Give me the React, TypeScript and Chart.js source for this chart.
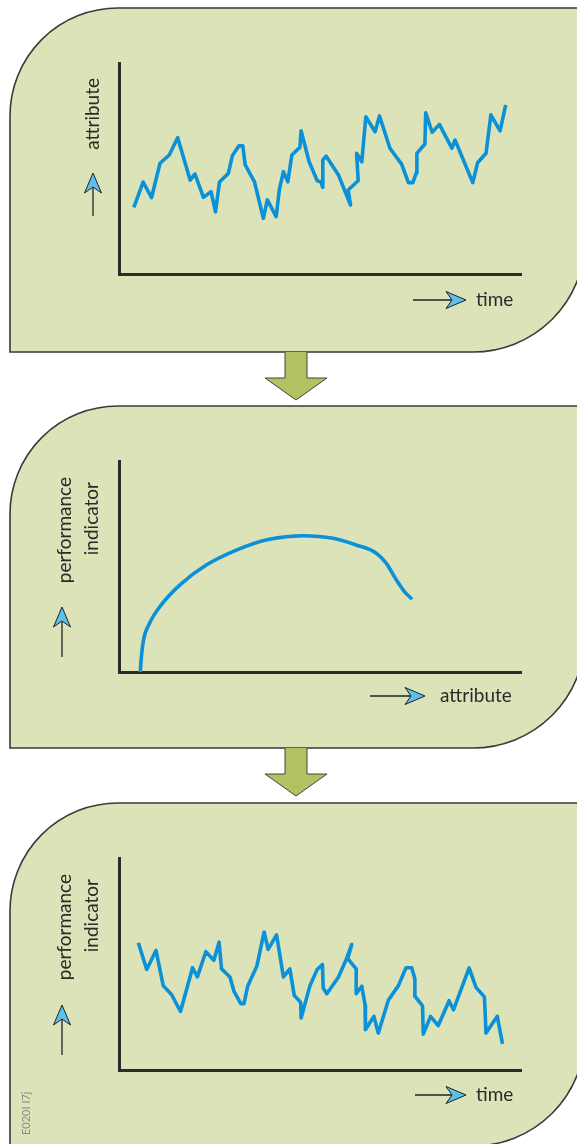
import React, { useEffect, useRef } from "react";
import { Chart, registerables } from "chart.js";

Chart.register(...registerables);

// ---------- data (axis units 0..100) ----------
const timeSteps1 = [3.7, 6.0, 8.1, 10.2, 12.5, 14.6, 17.7, 18.9, 21.0, 22.9, 24.0, 25.0, 27.2, 28.2, 29.8, 30.8, 31.4, 33.7, 35.9, 36.9, 39.1, 39.9, 40.9, 42.0, 43.0, 45.0, 45.3, 47.3, 49.3, 50.2, 50.7, 50.7, 51.5, 54.6, 56.6, 57.6, 57.0, 59.5, 59.1, 60.4, 61.4, 63.7, 64.8, 67.4, 70.3, 72.0, 73.1, 73.9, 74.1, 76.1, 76.3, 77.9, 79.7, 82.8, 83.6, 88.0, 89.2, 91.3, 92.5, 94.8, 96.2];
const attribute1 = [31.6, 43.6, 36.2, 52.5, 56.4, 64.6, 44.5, 47.4, 36.3, 39.0, 29.4, 43.6, 47.7, 56.1, 60.7, 60.7, 51.7, 43.7, 26.4, 35.1, 27.2, 40.1, 48.5, 43.7, 56.4, 60.0, 67.9, 53.2, 44.2, 43.7, 41.1, 54.0, 55.9, 46.9, 37.4, 32.7, 39.8, 44.2, 57.2, 53.2, 74.5, 67.4, 74.9, 59.6, 52.1, 43.3, 43.3, 47.7, 57.2, 61.6, 76.4, 67.2, 70.9, 59.6, 63.5, 43.3, 52.7, 57.2, 75.4, 67.8, 80.1];

const attributeCurve = [5.3, 5.5, 6.1, 7.6, 10.5, 15.1, 21.7, 29.2, 37.4, 45.7, 53.2, 59.0, 64.0, 66.5, 69.0, 71.0, 72.9];
const performanceCurve = [0, 5.7, 15.2, 23.1, 31.8, 41.2, 50.7, 57.8, 62.9, 64.6, 63.4, 60.2, 56.3, 51.5, 43.6, 38.1, 34.5];

const timeSteps3 = [4.8, 6.9, 9.2, 11.0, 13.1, 15.3, 18.3, 19.5, 21.6, 23.6, 24.9, 25.5, 27.6, 28.6, 30.3, 31.1, 32.0, 34.3, 36.1, 37.1, 39.2, 40.9, 42.5, 43.6, 45.2, 45.3, 47.5, 49.3, 50.6, 50.8, 51.7, 54.6, 56.6, 57.9, 56.9, 59.0, 59.0, 60.4, 61.2, 61.3, 63.4, 64.5, 67.0, 69.5, 71.4, 72.8, 73.6, 73.6, 75.5, 75.7, 77.5, 79.4, 82.1, 83.2, 87.1, 88.8, 90.9, 91.3, 94.1, 95.4];
const performance3 = [60.0, 47.4, 56.4, 39.8, 35.5, 27.6, 48.2, 43.9, 55.8, 51.8, 60.3, 47.7, 43.9, 37.1, 31.3, 31.3, 39.5, 49.0, 65.1, 56.9, 63.7, 43.9, 47.7, 35.1, 31.9, 24.5, 39.8, 47.4, 49.8, 38.7, 36.0, 43.9, 52.5, 59.2, 52.5, 47.7, 36.0, 39.5, 30.8, 19.0, 25.3, 17.4, 32.9, 39.8, 48.2, 48.2, 43.0, 34.8, 30.3, 16.9, 25.3, 20.9, 32.7, 28.4, 48.2, 39.0, 34.5, 17.4, 25.3, 12.3];

const yLabels1 = ["attribute"];
const xLabel1 = "time";
const yLabels2 = ["performance", "indicator"];
const xLabel2 = "attribute";
const yLabels3 = ["performance", "indicator"];
const xLabel3 = "time";
const figureCode = "E020I I7j";

// ---------- styles ----------
const LINE_BLUE = "#0a91d8";
const PANEL_FILL = "#dde3b9";
const PANEL_STROKE = "#3a3a3a";
const AXIS_COLOR = "#2b2b2b";
const ARROW_FILL = "#b1c263";
const DART_FILL = "#5cc0ee";
const TEXT_COLOR = "#2a2a2a";
const FONT = "Lato, 'Open Sans', sans-serif";

function dartH(ctx: CanvasRenderingContext2D, x0: number, tip: number, y: number) {
  ctx.save();
  ctx.strokeStyle = "#222";
  ctx.lineWidth = 1.3;
  ctx.beginPath();
  ctx.moveTo(x0, y);
  ctx.lineTo(tip - 14, y);
  ctx.stroke();
  ctx.beginPath();
  ctx.moveTo(tip, y);
  ctx.lineTo(tip - 20, y - 8.5);
  ctx.lineTo(tip - 14, y);
  ctx.lineTo(tip - 20, y + 8.5);
  ctx.closePath();
  ctx.fillStyle = DART_FILL;
  ctx.fill();
  ctx.lineWidth = 1;
  ctx.stroke();
  ctx.restore();
}

function dartV(ctx: CanvasRenderingContext2D, x: number, y0: number, tip: number) {
  ctx.save();
  ctx.strokeStyle = "#222";
  ctx.lineWidth = 1.3;
  ctx.beginPath();
  ctx.moveTo(x, y0);
  ctx.lineTo(x, tip + 14);
  ctx.stroke();
  ctx.beginPath();
  ctx.moveTo(x, tip);
  ctx.lineTo(x - 8.5, tip + 20);
  ctx.lineTo(x, tip + 14);
  ctx.lineTo(x + 8.5, tip + 20);
  ctx.closePath();
  ctx.fillStyle = DART_FILL;
  ctx.fill();
  ctx.lineWidth = 1;
  ctx.stroke();
  ctx.restore();
}

const decoPlugin = {
  id: "deco",
  beforeDraw(chart: any, _args: any, o: any) {
    const ctx: CanvasRenderingContext2D = chart.ctx;
    ctx.save();
    ctx.fillStyle = "#ffffff";
    ctx.fillRect(0, 0, chart.width, chart.height);
    const L = 10, R = 585, T = o.panelTop, B = o.panelBottom, r1 = 108, r2 = 112;
    ctx.beginPath();
    ctx.moveTo(L, B);
    ctx.lineTo(L, T + r1);
    ctx.arc(L + r1, T + r1, r1, Math.PI, 1.5 * Math.PI);
    ctx.lineTo(R, T);
    ctx.lineTo(R, B - r2);
    ctx.arc(R - r2, B - r2, r2, 0, 0.5 * Math.PI);
    ctx.closePath();
    ctx.fillStyle = PANEL_FILL;
    ctx.fill();
    ctx.lineWidth = 1.6;
    ctx.strokeStyle = PANEL_STROKE;
    ctx.stroke();
    if (o.downArrow) {
      const cx = 296;
      const headY = B + 26;
      const tipY = B + 48;
      ctx.beginPath();
      ctx.moveTo(cx - 11, B);
      ctx.lineTo(cx - 11, headY);
      ctx.lineTo(cx - 31, headY);
      ctx.lineTo(cx, tipY);
      ctx.lineTo(cx + 31, headY);
      ctx.lineTo(cx + 11, headY);
      ctx.lineTo(cx + 11, B);
      ctx.fillStyle = ARROW_FILL;
      ctx.fill();
      ctx.lineWidth = 1;
      ctx.strokeStyle = "#444";
      ctx.stroke();
    }
    ctx.restore();
  },
  afterDraw(chart: any, _args: any, o: any) {
    const ctx: CanvasRenderingContext2D = chart.ctx;
    ctx.save();
    ctx.fillStyle = TEXT_COLOR;
    ctx.font = `19px ${FONT}`;
    o.yLabels.forEach((t: string, i: number) => {
      ctx.save();
      ctx.translate(o.yLabelX[i], o.yLabelEnd[i]);
      ctx.rotate(-Math.PI / 2);
      ctx.textAlign = "right";
      ctx.textBaseline = "middle";
      ctx.fillText(t, 0, 0);
      ctx.restore();
    });
    dartV(ctx, o.yArrowX, o.yArrowBottom, o.yArrowTip);
    dartH(ctx, o.xArrowStart, o.xArrowTip, o.xLabelY);
    ctx.textAlign = "left";
    ctx.textBaseline = "middle";
    ctx.fillText(o.xLabel, o.xLabelX, o.xLabelY);
    if (o.code) {
      ctx.save();
      ctx.font = `11px ${FONT}`;
      ctx.fillStyle = "#8a8a8a";
      ctx.translate(26, o.codeBottom);
      ctx.rotate(-Math.PI / 2);
      ctx.textAlign = "left";
      ctx.textBaseline = "middle";
      ctx.fillText(o.code, 0, 0);
      ctx.restore();
    }
    ctx.restore();
  },
};

function axisScale() {
  return {
    type: "linear" as const,
    min: 0,
    max: 100,
    display: true,
    grid: { display: false, drawTicks: false },
    ticks: { display: false },
    border: { display: true, width: 3, color: AXIS_COLOR },
  };
}

type PanelProps = {
  top: number;
  height: number;
  xs: number[];
  ys: number[];
  smooth?: boolean;
  padding: { left: number; right: number; top: number; bottom: number };
  deco: any;
};

function PanelChart({ top, height, xs, ys, smooth, padding, deco }: PanelProps) {
  const ref = useRef<HTMLCanvasElement | null>(null);
  useEffect(() => {
    if (!ref.current) return;
    const chart = new Chart(ref.current, {
      type: "line",
      data: {
        datasets: [
          {
            data: xs.map((x, i) => ({ x, y: ys[i] })),
            borderColor: LINE_BLUE,
            borderWidth: 3.6,
            pointRadius: 0,
            fill: false,
            tension: smooth ? 0.4 : 0,
            cubicInterpolationMode: smooth ? "monotone" : "default",
            clip: false as any,
            borderCapStyle: "butt",
            borderJoinStyle: "round",
          } as any,
        ],
      },
      options: {
        animation: false,
        responsive: false,
        devicePixelRatio: 1,
        layout: { padding },
        plugins: { legend: { display: false }, tooltip: { enabled: false }, deco } as any,
        scales: { x: axisScale(), y: axisScale() } as any,
      },
      plugins: [decoPlugin],
    });
    return () => chart.destroy();
  }, []);
  return (
    <canvas
      ref={ref}
      width={577}
      height={height}
      style={{ position: "absolute", left: 0, top, width: 577, height }}
    />
  );
}

export default function App() {
  return (
    <div style={{ position: "absolute", left: 0, top: 0, width: 577, height: 1144, overflow: "hidden", background: "#fff" }}>
      <PanelChart
        top={0}
        height={403}
        xs={timeSteps1}
        ys={attribute1}
        padding={{ left: 119, right: 56, top: 63, bottom: 129 }}
        deco={{
          panelTop: 8,
          panelBottom: 352,
          downArrow: true,
          yLabels: yLabels1,
          yLabelX: [93],
          yLabelEnd: [78],
          yArrowX: 93,
          yArrowBottom: 216,
          yArrowTip: 173,
          xLabel: xLabel1,
          xLabelX: 476,
          xLabelY: 300,
          xArrowStart: 413,
          xArrowTip: 466,
        }}
      />
      <PanelChart
        top={403}
        height={397}
        xs={attributeCurve}
        ys={performanceCurve}
        smooth
        padding={{ left: 119, right: 56, top: 58, bottom: 128 }}
        deco={{
          panelTop: 3,
          panelBottom: 345,
          downArrow: true,
          yLabels: yLabels2,
          yLabelX: [65, 92],
          yLabelEnd: [74, 79],
          yArrowX: 62,
          yArrowBottom: 254,
          yArrowTip: 204,
          xLabel: xLabel2,
          xLabelX: 440,
          xLabelY: 293,
          xArrowStart: 370,
          xArrowTip: 425,
        }}
      />
      <PanelChart
        top={800}
        height={344}
        xs={timeSteps3}
        ys={performance3}
        padding={{ left: 119, right: 56, top: 58, bottom: 74 }}
        deco={{
          panelTop: 3,
          panelBottom: 346,
          downArrow: false,
          yLabels: yLabels3,
          yLabelX: [65, 92],
          yLabelEnd: [74, 79],
          yArrowX: 62,
          yArrowBottom: 255,
          yArrowTip: 205,
          xLabel: xLabel3,
          xLabelX: 476,
          xLabelY: 295,
          xArrowStart: 415,
          xArrowTip: 466,
          code: figureCode,
          codeBottom: 335,
        }}
      />
    </div>
  );
}
